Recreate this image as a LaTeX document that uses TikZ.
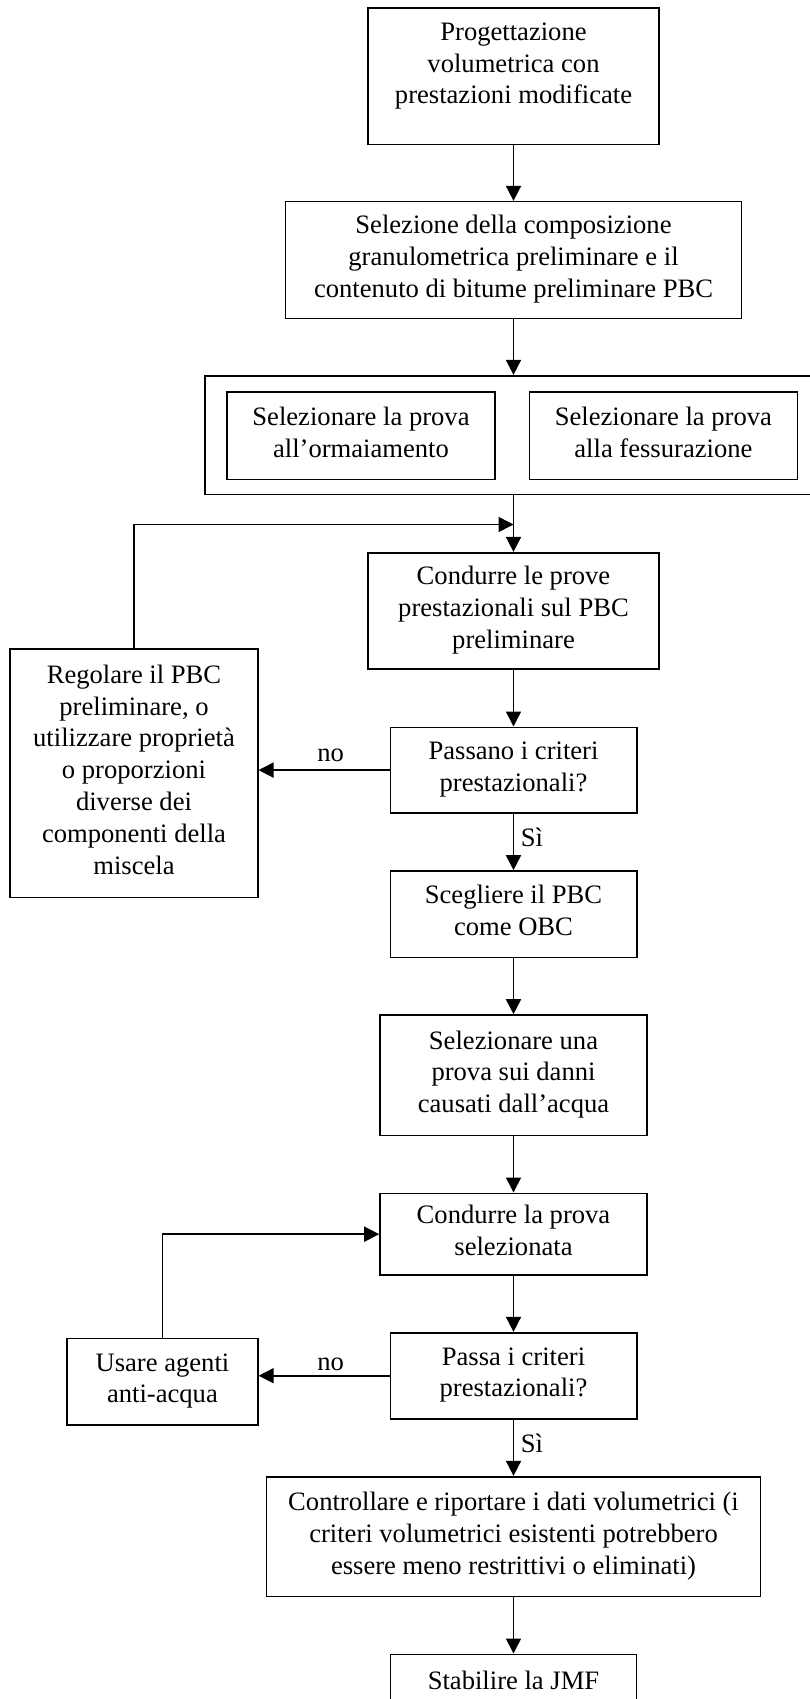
\documentclass[tikz,border=0pt]{standalone}
\usepackage{fontspec}
\setmainfont{Liberation Serif}
\usetikzlibrary{arrows.meta}
% strut that keeps every text line the same height, so multi-line blocks centre evenly
\newcommand\linestrut{\rule[-7pt]{0pt}{31.8pt}}
\tikzset{
  txtonly/.style={inner sep=0pt, align=center,
    font=\fontsize{26.6}{31.8}\selectfont,
    execute at begin node=\linestrut, execute at end node=\linestrut},
  procbox/.style={txtonly, draw, line width=1.6pt},
  flow/.style={-{Triangle[length=15pt,width=15pt]}, line width=1.6pt},
  lbl/.style={inner sep=0pt, font=\fontsize{26.6}{31.8}\selectfont}
}
\begin{document}
\begin{tikzpicture}[x=1pt,y=-1pt]
\useasboundingbox (0,0) rectangle (810,1699);
\clip (0,0) rectangle (810,1699);

% main column
\node[procbox, minimum width=291pt, minimum height=136.3pt] (n1) at (513.5,76.2) {};
\node[txtonly] (n1t) at (513.5,66.7) {Progettazione\\volumetrica con\\prestazioni modificate};
\node[procbox, minimum width=456pt, minimum height=116.6pt] (n2) at (513.5,260)
  {Selezione della composizione\\granulometrica preliminare e il\\contenuto di bitume preliminare PBC};

% group of the two test selections
\node[procbox, minimum width=625pt, minimum height=118.8pt] (grp) at (517.5,435.1) {};
\node[procbox, minimum width=267.5pt, minimum height=87.5pt] (t1) at (361,435.8)
  {Selezionare la prova\\all’ormaiamento};
\node[procbox, minimum width=267.8pt, minimum height=87.5pt] (t2) at (663.4,435.8)
  {Selezionare la prova\\alla fessurazione};

\node[procbox, minimum width=291pt, minimum height=116.3pt] (n3) at (513.5,610.85)
  {Condurre le prove\\prestazionali sul PBC\\preliminare};
\node[procbox, minimum width=246.4pt, minimum height=85.6pt] (n4) at (513.5,770.1)
  {Passano i criteri\\prestazionali?};
\node[procbox, minimum width=247.5pt, minimum height=248.6pt] (reg) at (134,773)
  {Regolare il PBC\\preliminare, o\\utilizzare proprietà\\o proporzioni\\diverse dei\\componenti della\\miscela};
\node[procbox, minimum width=246.4pt, minimum height=86.3pt] (n5) at (513.5,914.15)
  {Scegliere il PBC\\come OBC};
\node[procbox, minimum width=267pt, minimum height=120.3pt] (n6) at (513.5,1075.15)
  {Selezionare una\\prova sui danni\\causati dall’acqua};
\node[procbox, minimum width=267pt, minimum height=81.7pt] (n7) at (513.5,1234.15)
  {Condurre la prova\\selezionata};
\node[procbox, minimum width=246.4pt, minimum height=86pt] (n8) at (513.5,1375.7)
  {Passa i criteri\\prestazionali?};
\node[procbox, minimum width=190.7pt, minimum height=86.7pt] (usa) at (162.45,1381.65)
  {Usare agenti\\anti-acqua};
\node[procbox, minimum width=493.8pt, minimum height=119.6pt] (n9) at (513.5,1536.5)
  {Controllare e riportare i dati volumetrici (i\\criteri volumetrici esistenti potrebbero\\essere meno restrittivi o eliminati)};
\node[procbox, minimum width=246pt, minimum height=53.4pt] (n10) at (513.5,1681)
  {Stabilire la JMF};

% connectors
\coordinate (j1) at (513.5,524.5);
\draw[flow] (n1.south) -- (n2.north);
\draw[flow] (n2.south) -- (n2.south |- grp.north);
\draw[flow] (n3.north |- grp.south) -- (n3.north);
\draw[flow] (reg.north) |- (j1);
\draw[flow] (n3.south) -- (n4.north);
\draw[flow] (n4.west) -- (n4.west -| reg.east);
\draw[flow] (n4.south) -- (n5.north);
\draw[flow] (n5.south) -- (n6.north);
\draw[flow] (n6.south) -- (n7.north);
\draw[flow] (n7.south) -- (n8.north);
\draw[flow] (usa.north) |- (n7.west);
\draw[flow] (n8.west) -- (n8.west -| usa.east);
\draw[flow] (n8.south) -- (n9.north);
\draw[flow] (n9.south) -- (n10.north);

% branch labels
\node[lbl, anchor=base] (no1) at (330.6,761.7) {no};
\node[lbl, anchor=base west] (si1) at (520.7,846.7) {Sì};
\node[lbl, anchor=base] (no2) at (330.6,1370.5) {no};
\node[lbl, anchor=base west] (si2) at (520.7,1452.7) {Sì};
\end{tikzpicture}
\end{document}
